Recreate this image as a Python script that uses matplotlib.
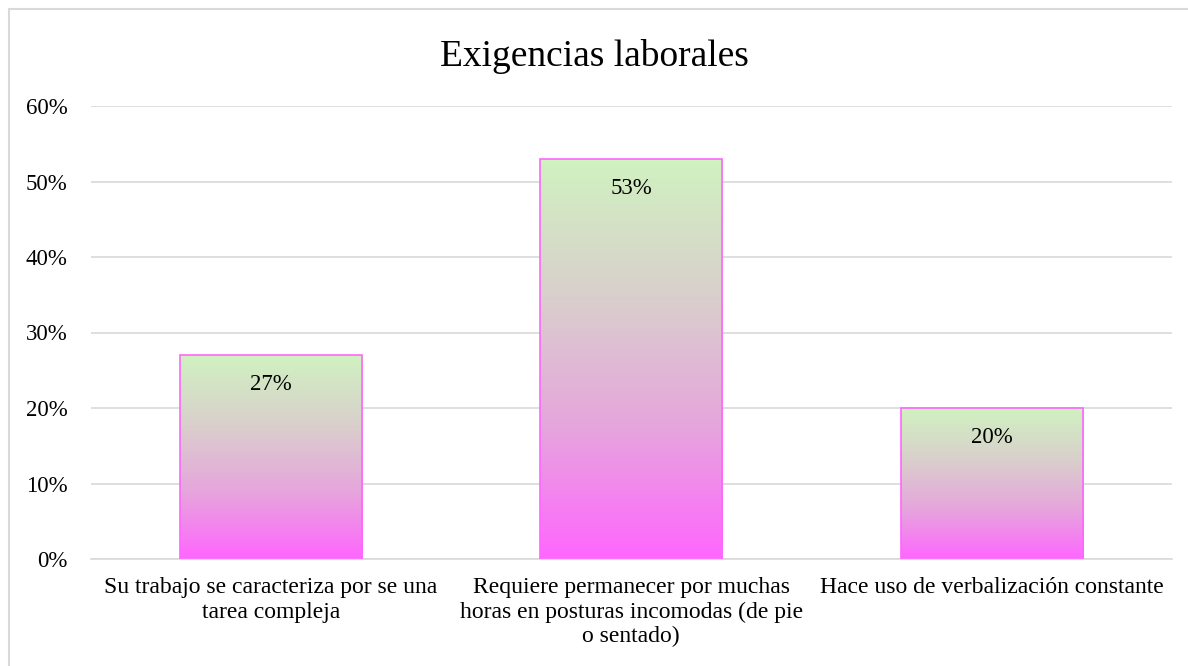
import numpy as np
import matplotlib.pyplot as plt
from matplotlib.colors import LinearSegmentedColormap
from matplotlib.patches import Rectangle

# Data
categories = [
    'Su trabajo se caracteriza por se una\ntarea compleja',
    'Requiere permanecer por muchas\nhoras en posturas incomodas (de pie\no sentado)',
    'Hace uso de verbalización constante',
]
values = [27, 53, 20]
labels = ['27%', '53%', '20%']
yticks = [0, 10, 20, 30, 40, 50, 60]

plt.rcParams['font.family'] = ['Liberation Serif', 'DejaVu Serif']

fig = plt.figure(figsize=(11.88, 6.66), dpi=100)
ax = fig.add_axes([90.5 / 1188, 1 - 559 / 666, (1172 - 90.5) / 1188, (559 - 106) / 666])

# outer chart border
fig.patches.append(Rectangle((9 / 1188, -0.01), 1.02, 1 - 9 / 666 + 0.01,
                             transform=fig.transFigure, fill=False,
                             edgecolor='#d9d9d9', linewidth=1.5, clip_on=False))

cmap = LinearSegmentedColormap.from_list('grad', ['#ff66ff', '#e6a6dc', '#d9d0cc', '#d0f2c0'])
grad = np.linspace(0, 1, 256).reshape(-1, 1)

x = np.arange(len(categories))
width = 0.505
bars = ax.bar(x, values, width=width, color='none', edgecolor='#ff66ff', linewidth=1.2, zorder=3)
for bar, lab in zip(bars, labels):
    bx, by = bar.get_x(), bar.get_y()
    bw, bh = bar.get_width(), bar.get_height()
    im = ax.imshow(grad, cmap=cmap, origin='lower', aspect='auto',
                   extent=[bx, bx + bw, by, by + bh], zorder=2)
    im.set_clip_path(bar)
    ax.text(bx + bw / 2, by + bh - 2.5, lab, ha='center', va='top', fontsize=16.5, zorder=4)

ax.set_xlim(-0.5, len(categories) - 0.5)
ax.set_ylim(0, 60)
ax.set_yticks(yticks)
ax.set_yticklabels([f'{v}%' for v in yticks], fontsize=16.5)
ax.set_xticks(x)
ax.set_xticklabels(categories, fontsize=17, linespacing=1.22)
ax.tick_params(length=0)
ax.tick_params(axis='y', pad=16.5)
ax.tick_params(axis='x', pad=13)
ax.yaxis.grid(True, color='#d9d9d9', linewidth=1.2, zorder=0)
ax.set_axisbelow(True)
for s in ['top', 'right', 'left']:
    ax.spines[s].set_visible(False)
ax.spines['bottom'].set_color('#d9d9d9')
ax.spines['bottom'].set_linewidth(1.2)

fig.text(0.5, 1 - 57 / 666, 'Exigencias laborales', ha='center', va='center', fontsize=27)

fig.savefig('out.png', dpi=100)
